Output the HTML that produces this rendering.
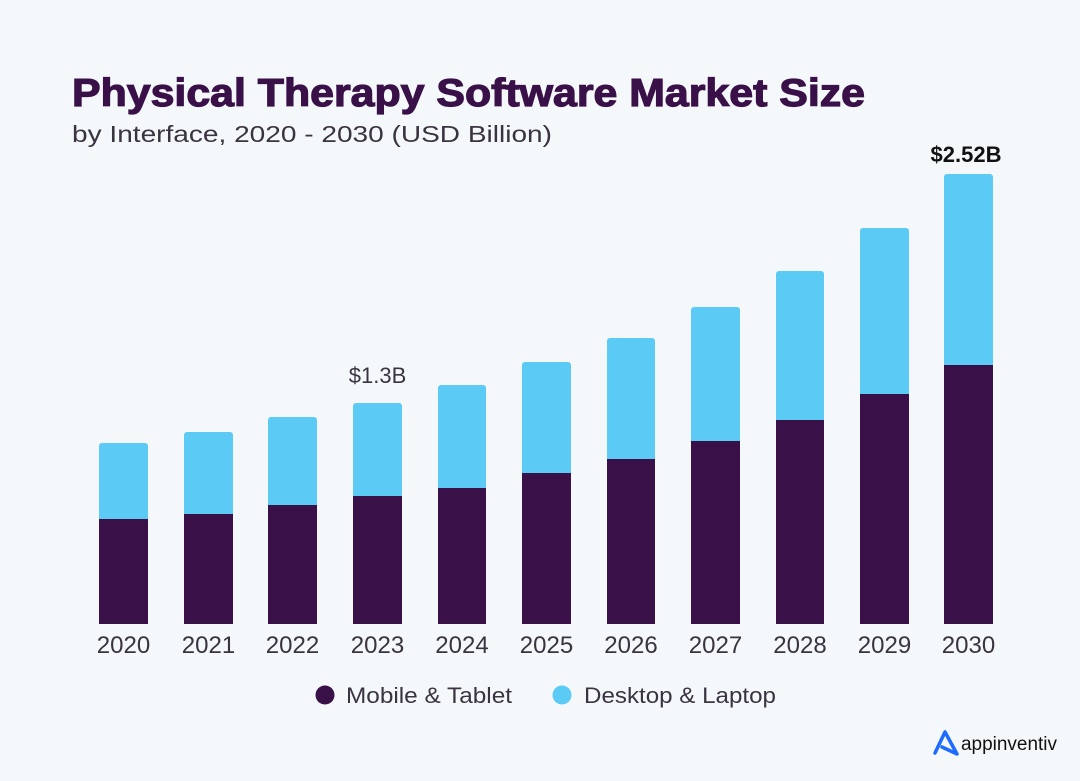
<!DOCTYPE html>
<html><head><meta charset="utf-8"><style>
html,body{margin:0;padding:0;background:#F4F8FB;}
svg{display:block;}
</style></head><body>
<svg width="1080" height="781" viewBox="0 0 1080 781" xmlns="http://www.w3.org/2000/svg">
<rect width="1080" height="781" fill="#F4F8FB"/>
<text x="72" y="106" font-family="Liberation Sans, sans-serif" font-weight="bold" font-size="39" fill="#3A1048" textLength="793" lengthAdjust="spacingAndGlyphs" stroke="#3A1048" stroke-width="1.2">Physical Therapy Software Market Size</text>
<text x="72" y="142" font-family="Liberation Sans, sans-serif" font-size="23" fill="#3a3340" textLength="480" lengthAdjust="spacingAndGlyphs">by Interface, 2020 - 2030 (USD Billion)</text>
<g id="bars">
<rect x="99" y="443" width="49" height="181" rx="3" fill="#5BCAF5"/><rect x="99" y="519" width="49" height="105" fill="#3A1048"/>
<rect x="184" y="432" width="49" height="192" rx="3" fill="#5BCAF5"/><rect x="184" y="514" width="49" height="110" fill="#3A1048"/>
<rect x="268" y="417" width="49" height="207" rx="3" fill="#5BCAF5"/><rect x="268" y="505" width="49" height="119" fill="#3A1048"/>
<rect x="353" y="403" width="49" height="221" rx="3" fill="#5BCAF5"/><rect x="353" y="496" width="49" height="128" fill="#3A1048"/>
<rect x="438" y="385" width="48" height="239" rx="3" fill="#5BCAF5"/><rect x="438" y="488" width="48" height="136" fill="#3A1048"/>
<rect x="522" y="362" width="49" height="262" rx="3" fill="#5BCAF5"/><rect x="522" y="473" width="49" height="151" fill="#3A1048"/>
<rect x="607" y="338" width="48" height="286" rx="3" fill="#5BCAF5"/><rect x="607" y="459" width="48" height="165" fill="#3A1048"/>
<rect x="691" y="307" width="49" height="317" rx="3" fill="#5BCAF5"/><rect x="691" y="441" width="49" height="183" fill="#3A1048"/>
<rect x="776" y="271" width="48" height="353" rx="3" fill="#5BCAF5"/><rect x="776" y="420" width="48" height="204" fill="#3A1048"/>
<rect x="860" y="228" width="49" height="396" rx="3" fill="#5BCAF5"/><rect x="860" y="394" width="49" height="230" fill="#3A1048"/>
<rect x="944" y="174" width="49" height="450" rx="3" fill="#5BCAF5"/><rect x="944" y="365" width="49" height="259" fill="#3A1048"/>
</g>
<g font-family="Liberation Sans, sans-serif" font-size="24" fill="#3a3340" text-anchor="middle">
<text x="123.5" y="653">2020</text><text x="208.5" y="653">2021</text><text x="292.5" y="653">2022</text>
<text x="377.5" y="653">2023</text><text x="462" y="653">2024</text><text x="546.5" y="653">2025</text>
<text x="631" y="653">2026</text><text x="715.5" y="653">2027</text><text x="800" y="653">2028</text>
<text x="884.5" y="653">2029</text><text x="968.5" y="653">2030</text>
<text x="377.5" y="383" font-size="22">$1.3B</text>
<text x="966" y="162" font-size="22" font-weight="bold" fill="#111">$2.52B</text>
</g>
<circle cx="325" cy="695" r="9.5" fill="#3A1048"/>
<text x="346" y="703" font-family="Liberation Sans, sans-serif" font-size="22" fill="#3a3340" textLength="166" lengthAdjust="spacingAndGlyphs">Mobile &amp; Tablet</text>
<circle cx="562" cy="695" r="9.5" fill="#5BCAF5"/>
<text x="584" y="703" font-family="Liberation Sans, sans-serif" font-size="22" fill="#3a3340" textLength="192" lengthAdjust="spacingAndGlyphs">Desktop &amp; Laptop</text>
<path d="M935 753 L945 732 L957 754 L942 747" fill="none" stroke="#1E6BFF" stroke-width="3.5" stroke-linejoin="round" stroke-linecap="round"/>
<text x="961" y="750" font-family="Liberation Sans, sans-serif" font-size="19" fill="#111" textLength="96" lengthAdjust="spacingAndGlyphs">appinventiv</text>
</svg>
</body></html>
